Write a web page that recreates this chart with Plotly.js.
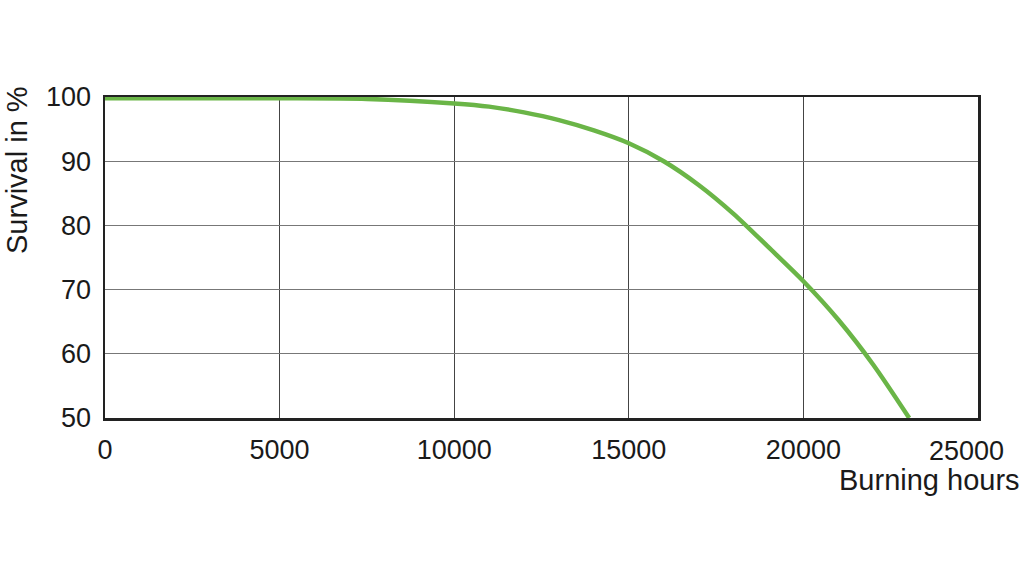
<!DOCTYPE html>
<html>
<head>
<meta charset="utf-8">
<script src="https://cdn.plot.ly/plotly-3.0.1.min.js"></script>
<style>html,body{margin:0;padding:0;background:#fff;}#chart{width:1024px;height:577px;}</style>
</head>
<body>
<div id="chart"></div>
<script>
const hours = [0, 2500, 5000, 7500, 10000, 11000, 12000, 13000, 14000, 15000, 16000, 17000, 18000, 19000, 20000, 21000, 22000, 23030];
const survival = [99.8, 99.8, 99.8, 99.7, 99.0, 98.5, 97.6, 96.4, 94.8, 92.8, 90.0, 86.3, 81.8, 76.6, 71.3, 65.3, 58.3, 50.0];
const xTicks = [0, 5000, 10000, 15000, 20000, 25000];
const xTickLabels = ["0", "5000", "10000", "15000", "20000", "25000"];
const yTicks = [50, 60, 70, 80, 90, 100];
const yTickLabels = ["50", "60", "70", "80", "90", "100"];
const xTitle = "Burning hours";
const yTitle = "Survival in %";

const tickFont = {family: "Liberation Sans, Arial, sans-serif", size: 27, color: "#1a1a1a"};
const titleFont = {family: "Liberation Sans, Arial, sans-serif", size: 29, color: "#1a1a1a"};

// last x tick label is drawn slightly left of its gridline, as in the reference
const lastIdx = xTicks.length - 1;
const shownX = xTickLabels.map((t, i) => i === lastIdx ? "" : t);

Plotly.newPlot("chart", [{
  x: hours, y: survival, type: "scatter", mode: "lines",
  line: {color: "#6ab547", width: 4.5, shape: "spline", smoothing: 0.8},
  cliponaxis: true, hoverinfo: "skip"
}], {
  width: 1024, height: 577,
  margin: {l: 105, r: 46, t: 97, b: 159},
  paper_bgcolor: "#fff", plot_bgcolor: "#fff",
  showlegend: false,
  font: tickFont,
  xaxis: {
    range: [0, 25000], tickvals: xTicks, ticktext: shownX,
    showgrid: true, gridcolor: "#444", gridwidth: 1,
    showline: true, linecolor: "#222", linewidth: 2.5, mirror: true,
    zeroline: false, ticks: "", ticklabelstandoff: 6,
    tickfont: tickFont
  },
  yaxis: {
    range: [50, 100], tickvals: yTicks, ticktext: yTickLabels,
    showgrid: true, gridcolor: "#777", gridwidth: 1,
    showline: true, linecolor: "#222", linewidth: 2.5, mirror: true,
    zeroline: false, ticks: "", ticklabelstandoff: 6,
    tickfont: tickFont
  },
  annotations: [
    {text: xTickLabels[lastIdx], xref: "x", yref: "paper", x: xTicks[lastIdx], y: 0, yshift: -16,
     xshift: -12, showarrow: false, xanchor: "center", yanchor: "top", font: tickFont},
    {text: xTitle, xref: "paper", yref: "paper", x: (929.5 - 105) / 873, y: (418 - 480) / 321, showarrow: false,
     xanchor: "center", yanchor: "middle", font: titleFont},
    {text: yTitle, xref: "paper", yref: "paper", x: (17 - 105) / 873, y: (418 - 170) / 321, showarrow: false,
     textangle: -90, xanchor: "center", yanchor: "middle", font: titleFont}
  ]
}, {staticPlot: true});
</script>
</body>
</html>
